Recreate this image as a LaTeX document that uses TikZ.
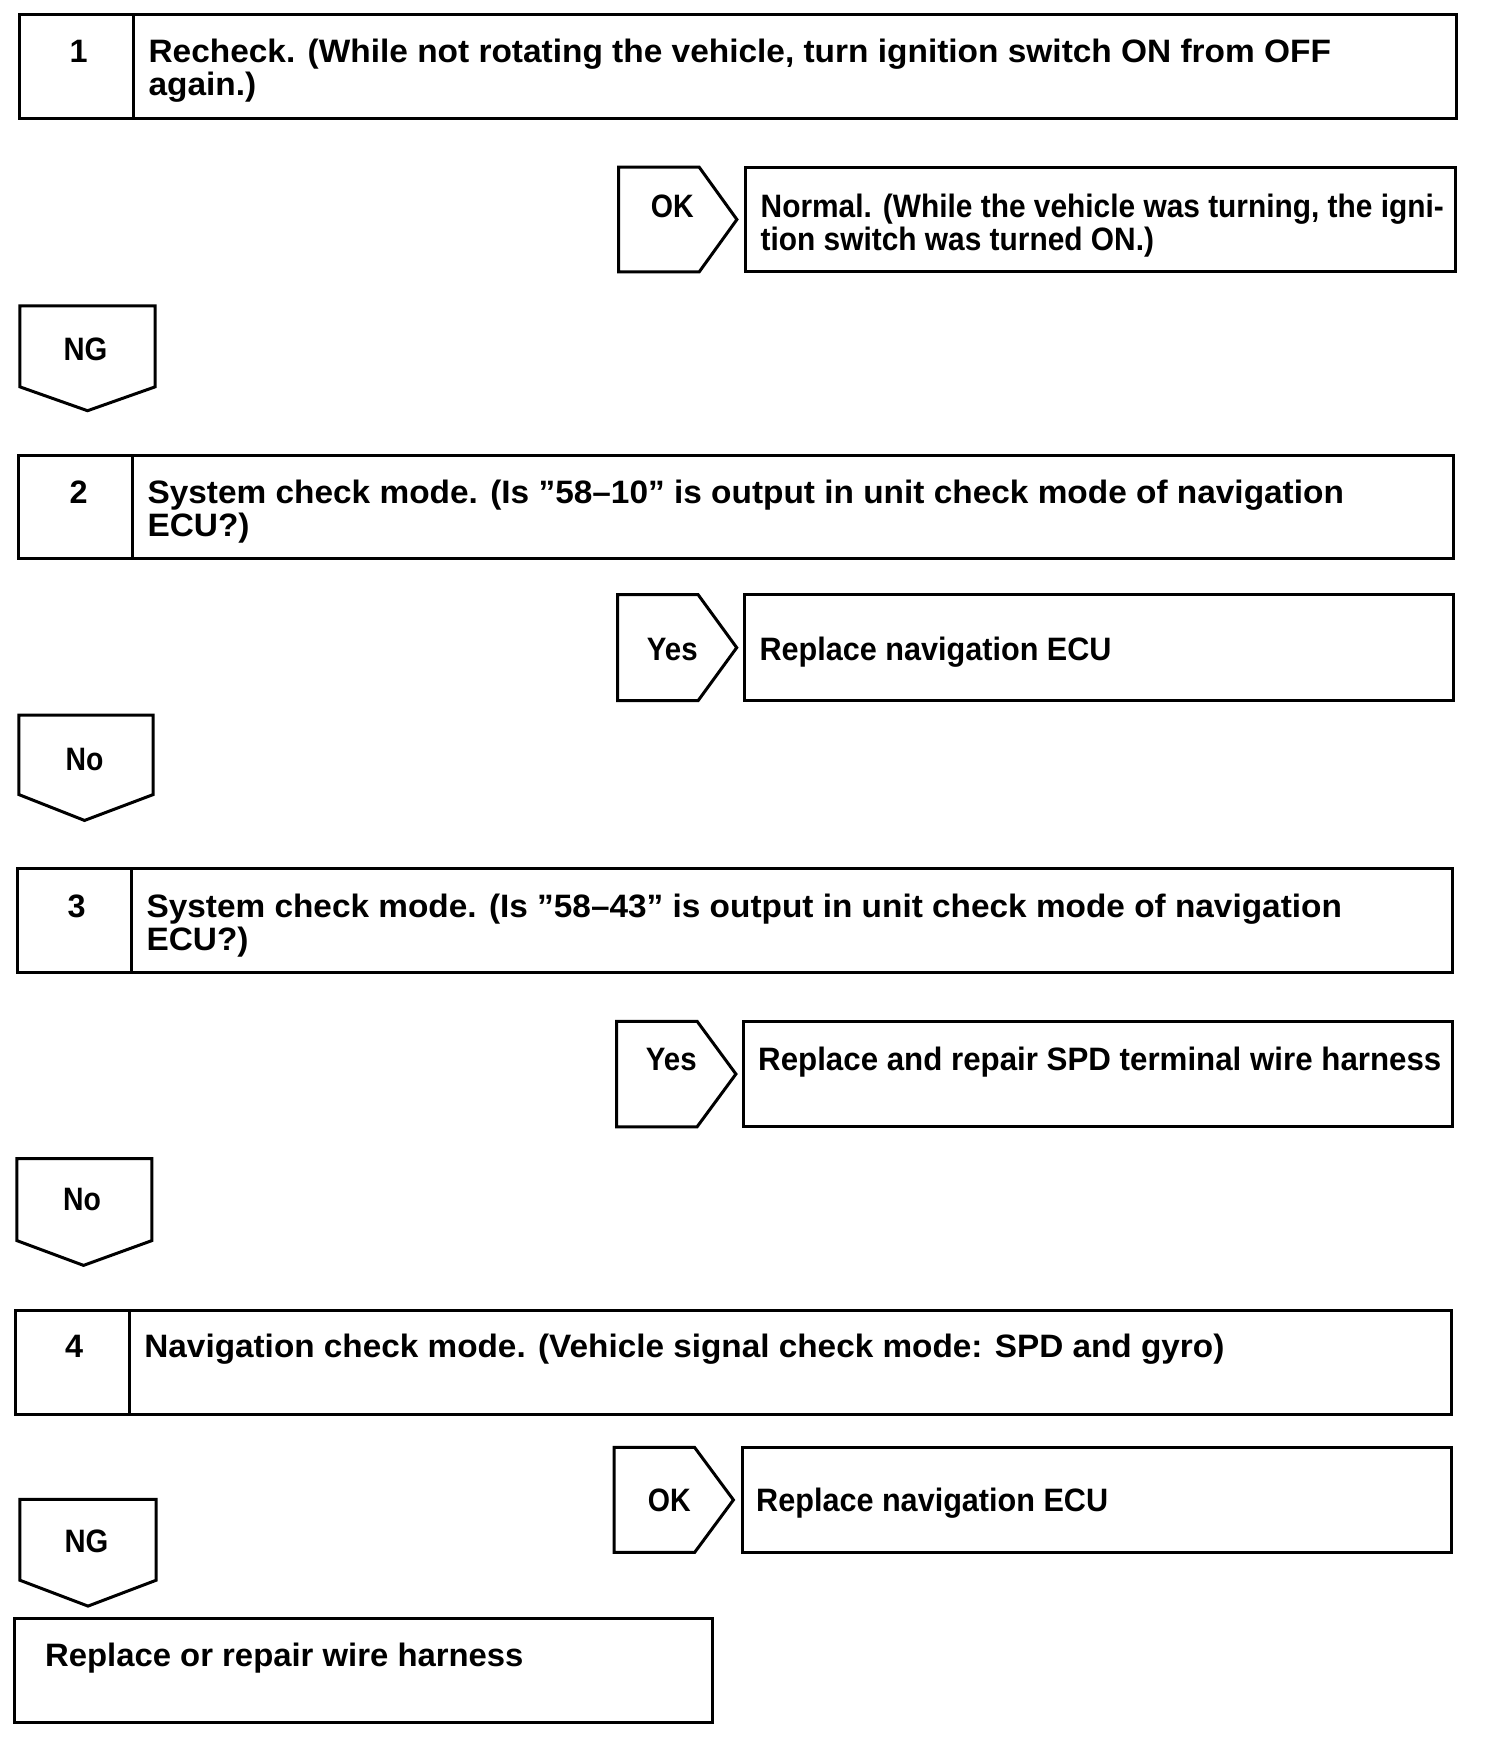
\documentclass[tikz,border=0pt]{standalone}
\usepackage{fontspec}
\usepackage{graphicx}
\setmainfont{Liberation Sans}
\newlength\fitlen
\newcommand{\fitt}[3]{%
  \settowidth{\fitlen}{#2}%
  \pgfmathsetmacro{\fr}{#1/\fitlen}%
  \scalebox{\fr}[1]{\begin{tabular}[t]{@{}l@{}}#2\\#3\end{tabular}}}
\newcommand{\fito}[2]{\resizebox{#1}{\height}{#2}}
\tikzset{
  frame/.style={draw=black, line width=1.5pt, line join=miter},
  txt/.style={anchor=base west, inner sep=0pt, font=\fontsize{16.2}{15.9}\selectfont\bfseries},
  lbl/.style={anchor=base, inner sep=0pt, font=\fontsize{16.2}{15.9}\selectfont\bfseries}
}
\begin{document}
\begin{tikzpicture}[x=0.49726pt,y=-0.49726pt]
\useasboundingbox (0,0) rectangle (1512.4,1773.8);
\fill[white] (0,0) rectangle (1512.4,1773.8);

% ---- step 1
\draw[frame] (20,14.5) rectangle (1464.5,119);
\draw[frame] (134.5,14.5) -- (134.5,119);
\node[lbl] (n1) at (79,63) {1};
\node[txt] (t1) at (149,63) {\fitt{591.2pt}{Recheck. (While not rotating the vehicle, turn ignition switch ON from OFF}{again.)}};

\draw[frame] (622,168) -- (703,168) -- (741,220.75) -- (703,273.5) -- (622,273.5) -- cycle;
\node[lbl] (ok1) at (676,219) {\fito{21.4pt}{OK}};
\draw[frame] (750,168) rectangle (1463.5,273.5);
\node[txt] (r1) at (764.5,219) {\fitt{341.6pt}{Normal. (While the vehicle was turning, the igni-}{tion switch was turned ON.)}};

\draw[frame] (20,307.6) -- (156,307.6) -- (156,389) -- (88,413) -- (20,389) -- cycle;
\node[lbl] (ng1) at (86,362) {\fito{21.9pt}{NG}};

% ---- step 2
\draw[frame] (19,458) rectangle (1462,562);
\draw[frame] (133.5,458) -- (133.5,562);
\node[lbl] (n2) at (79,506) {2};
\node[txt] (t2) at (148,506) {\fitt{598.2pt}{System check mode. (Is ”58–10” is output in unit check mode of navigation}{ECU?)}};

\draw[frame] (621,598) -- (702,598) -- (740.8,651.25) -- (702,704.5) -- (621,704.5) -- cycle;
\node[lbl] (y2) at (676,664) {\fito{25.4pt}{Yes}};
\draw[frame] (749,598) rectangle (1462,704.5);
\node[txt] (r2) at (763.4,664) {\fito{176pt}{Replace navigation ECU}};

\draw[frame] (19,719) -- (154,719) -- (154,799) -- (85,825) -- (19,799) -- cycle;
\node[lbl] (no2) at (85,775) {\fito{18.9pt}{No}};

% ---- step 3
\draw[frame] (18,873) rectangle (1461,978);
\draw[frame] (132.3,873) -- (132.3,978);
\node[lbl] (n3) at (77,923) {3};
\node[txt] (t3) at (147,923) {\fitt{597.7pt}{System check mode. (Is ”58–43” is output in unit check mode of navigation}{ECU?)}};

\draw[frame] (620,1027) -- (701,1027) -- (740,1080) -- (701,1133) -- (620,1133) -- cycle;
\node[lbl] (y3) at (675,1076) {\fito{25.4pt}{Yes}};
\draw[frame] (748,1027) rectangle (1461,1133);
\node[txt] (r3) at (762,1076) {\fito{341.6pt}{Replace and repair SPD terminal wire harness}};

\draw[frame] (17,1165) -- (152.7,1165) -- (152.7,1247.5) -- (84,1272.4) -- (17,1247.5) -- cycle;
\node[lbl] (no3) at (82.6,1217.6) {\fito{18.9pt}{No}};

% ---- step 4
\draw[frame] (16,1317.5) rectangle (1460,1422.5);
\draw[frame] (130,1317.5) -- (130,1422.5);
\node[lbl] (n4) at (74.6,1364.7) {4};
\node[txt] (t4) at (144.8,1364.7) {\fito{540pt}{Navigation check mode. (Vehicle signal check mode: SPD and gyro)}};

\draw[frame] (617.5,1455.5) -- (698.5,1455.5) -- (737.5,1508.25) -- (698.5,1561) -- (617.5,1561) -- cycle;
\node[lbl] (ok4) at (673,1519.6) {\fito{21.4pt}{OK}};
\draw[frame] (746.5,1455.5) rectangle (1460,1561);
\node[txt] (r4) at (760,1519.6) {\fito{176pt}{Replace navigation ECU}};

\draw[frame] (20,1507.6) -- (157,1507.6) -- (157,1589) -- (88.5,1615) -- (20,1589) -- cycle;
\node[lbl] (ng4) at (87,1561.5) {\fito{21.9pt}{NG}};

\draw[frame] (14.7,1627.5) rectangle (716,1732.5);
\node[txt] (r5) at (45,1675.7) {\fito{239.2pt}{Replace or repair wire harness}};
\end{tikzpicture}
\end{document}
